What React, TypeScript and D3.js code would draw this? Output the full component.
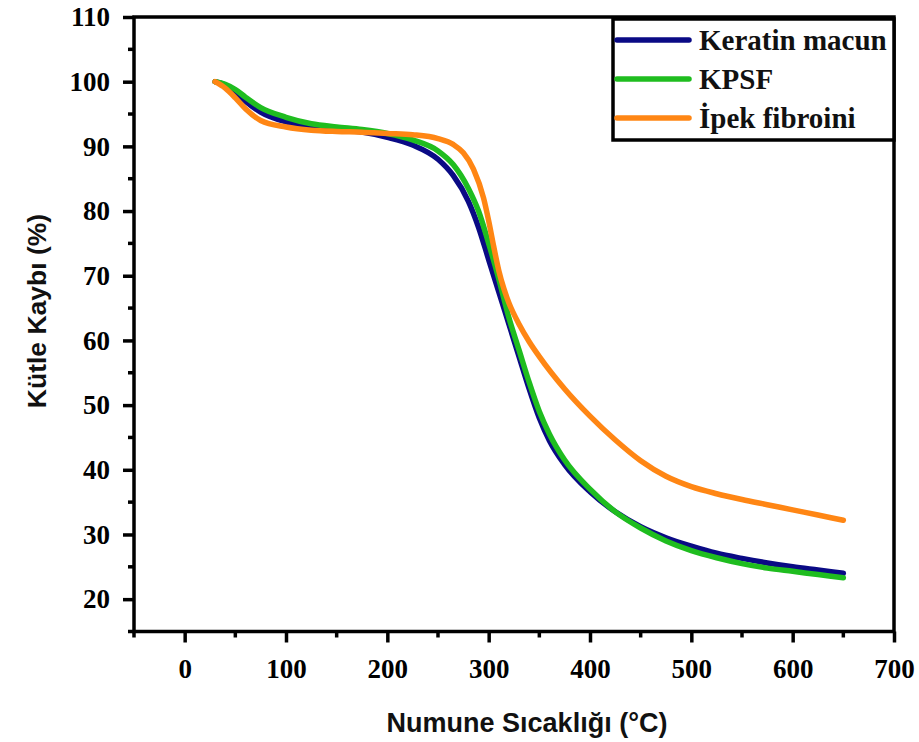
import { useRef, useEffect } from 'react';
import * as d3 from 'd3';

// TGA curves: [temperature °C, mass %]
const keratin: [number, number][] = [
  [30, 100], [40, 99.5], [50, 98.5], [60, 97], [75, 95.3], [100, 93.8], [125, 93], [150, 92.6],
  [175, 92.2], [200, 91.4], [225, 90.2], [250, 88], [265, 85.5], [280, 81.5], [290, 77.5],
  [300, 72.5], [310, 67.5], [320, 62.5], [330, 57.5], [340, 52.5], [350, 48], [360, 44.5], [375, 40.8],
  [400, 36.6], [425, 33.5], [450, 31.2], [475, 29.5], [500, 28.2], [525, 27.1], [550, 26.3],
  [575, 25.6], [600, 25], [625, 24.5], [650, 24],
];
const kpsf: [number, number][] = [
  [30, 100], [40, 99.6], [50, 98.8], [60, 97.6], [75, 96], [100, 94.5], [125, 93.5], [150, 93],
  [175, 92.6], [200, 92], [225, 91], [250, 89.3], [265, 87.2], [280, 83.5], [290, 80],
  [300, 75], [310, 69.5], [320, 63.5], [330, 58.5], [340, 53.5], [350, 49], [360, 45.5], [375, 41.5],
  [400, 37], [425, 33.5], [450, 31], [475, 29], [500, 27.5], [525, 26.4], [550, 25.5],
  [575, 24.8], [600, 24.3], [625, 23.8], [650, 23.3],
];
const ipek: [number, number][] = [
  [30, 100], [40, 99], [50, 97.5], [60, 95.8], [75, 94], [100, 93], [125, 92.5], [150, 92.3],
  [175, 92.2], [200, 92], [225, 91.8], [250, 91.2], [265, 90.3], [275, 89], [285, 86.5],
  [295, 82], [300, 78.5], [305, 74.5], [310, 70.8], [315, 68], [320, 65.8], [330, 62.5],
  [340, 59.8], [350, 57.5], [375, 52.5], [400, 48.3], [425, 44.6], [450, 41.4], [475, 39],
  [500, 37.4], [525, 36.3], [550, 35.4], [575, 34.6], [600, 33.8], [625, 33], [650, 32.2],
];

const seriesList = [
  { label: 'Keratin macun', color: '#0a0a85', data: keratin },
  { label: 'KPSF', color: '#1fbd1f', data: kpsf },
  { label: 'İpek fibroini', color: '#ff8614', data: ipek },
];

const xMajor = [0, 100, 200, 300, 400, 500, 600, 700];
const xMinor = [-50, 50, 150, 250, 350, 450, 550, 650];
const yMajor = [20, 30, 40, 50, 60, 70, 80, 90, 100, 110];
const yMinor = [15, 25, 35, 45, 55, 65, 75, 85, 95, 105];

const W = 919;
const H = 742;

export default function App() {
  const ref = useRef<SVGSVGElement | null>(null);

  useEffect(() => {
    if (!ref.current) return;
    const svg = d3.select(ref.current);
    svg.selectAll('*').remove();

    const left = 134, right = 894, top = 17, bottom = 631.5;
    const x = d3.scaleLinear().domain([-50, 700]).range([left, right]);
    const y = d3.scaleLinear().domain([15, 110]).range([bottom, top]);

    const serif = '"Liberation Serif", "Times New Roman", serif';
    const sans = '"Liberation Sans", Arial, sans-serif';

    // curves
    const line = d3.line<[number, number]>()
      .x(d => x(d[0]))
      .y(d => y(d[1]))
      .curve(d3.curveMonotoneX);

    seriesList.forEach(s => {
      svg.append('path')
        .datum(s.data)
        .attr('fill', 'none')
        .attr('stroke', s.color)
        .attr('stroke-width', 5.5)
        .attr('stroke-linecap', 'round')
        .attr('stroke-linejoin', 'round')
        .attr('d', line);
    });

    // bottom axis
    const gx = svg.append('g').attr('transform', `translate(0,${bottom})`);
    gx.call(d3.axisBottom(x).tickValues(xMajor).tickSize(11).tickPadding(16).tickFormat(d => `${d}`))
      .call(ax => ax.select('.domain').remove())
      .call(ax => ax.selectAll('.tick line').attr('stroke', '#000').attr('stroke-width', 3.5))
      .call(ax => ax.selectAll('text')
        .attr('fill', '#000').attr('font-family', serif).attr('font-weight', 'bold').attr('font-size', 27));
    gx.selectAll('line.minor').data(xMinor).enter().append('line')
      .attr('class', 'minor')
      .attr('x1', d => x(d)).attr('x2', d => x(d)).attr('y1', 0).attr('y2', 6)
      .attr('stroke', '#000').attr('stroke-width', 3.5);

    // left axis
    const gy = svg.append('g').attr('transform', `translate(${left},0)`);
    gy.call(d3.axisLeft(y).tickValues(yMajor).tickSize(11).tickPadding(13).tickFormat(d => `${d}`))
      .call(ax => ax.select('.domain').remove())
      .call(ax => ax.selectAll('.tick line').attr('stroke', '#000').attr('stroke-width', 3.5))
      .call(ax => ax.selectAll('text')
        .attr('fill', '#000').attr('font-family', serif).attr('font-weight', 'bold').attr('font-size', 27));
    gy.selectAll('line.minor').data(yMinor).enter().append('line')
      .attr('class', 'minor')
      .attr('y1', d => y(d)).attr('y2', d => y(d)).attr('x1', 0).attr('x2', -6)
      .attr('stroke', '#000').attr('stroke-width', 3.5);

    // frame
    svg.append('rect')
      .attr('x', left).attr('y', top)
      .attr('width', right - left).attr('height', bottom - top)
      .attr('fill', 'none').attr('stroke', '#000').attr('stroke-width', 3.5);

    // axis titles
    svg.append('text')
      .attr('x', 527).attr('y', 732)
      .attr('text-anchor', 'middle')
      .attr('font-family', sans).attr('font-weight', 'bold').attr('font-size', 27)
      .attr('fill', '#111')
      .text('Numune Sıcaklığı (°C)');

    svg.append('text')
      .attr('transform', `translate(46,311) rotate(-90)`)
      .attr('text-anchor', 'middle')
      .attr('font-family', sans).attr('font-weight', 'bold').attr('font-size', 26.5)
      .attr('fill', '#111')
      .text('Kütle Kaybı (%)');

    // legend
    const lg = svg.append('g');
    lg.append('rect')
      .attr('x', 613).attr('y', 19).attr('width', right - 613).attr('height', 121)
      .attr('fill', '#fff').attr('stroke', '#000').attr('stroke-width', 3.5);
    seriesList.forEach((s, i) => {
      const cy = 40 + i * 39;
      lg.append('line')
        .attr('x1', 617).attr('x2', 689).attr('y1', cy).attr('y2', cy)
        .attr('stroke', s.color).attr('stroke-width', 5.5).attr('stroke-linecap', 'round');
      lg.append('text')
        .attr('x', 699).attr('y', cy + 10)
        .attr('font-family', serif).attr('font-weight', 'bold').attr('font-size', 29)
        .attr('fill', '#111')
        .text(s.label);
    });
  }, []);

  return (
    <svg
      ref={ref}
      width={W}
      height={H}
      style={{ position: 'absolute', left: 0, top: 0, background: '#fff' }}
    />
  );
}
